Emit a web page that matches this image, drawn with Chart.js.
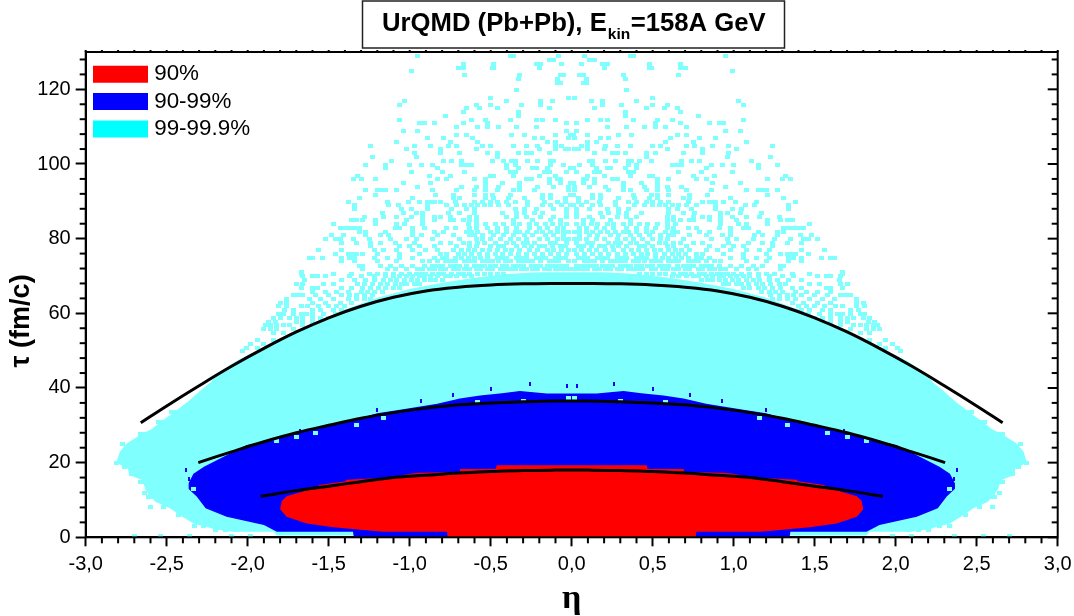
<!DOCTYPE html>
<html><head><meta charset="utf-8">
<style>html,body{margin:0;padding:0;background:#fff}canvas{display:block}</style>
<script src="https://cdn.jsdelivr.net/npm/chart.js@4"></script>
</head><body>
<canvas id="c" width="1074" height="616"></canvas>
<script>
const seriesNames = ["90%", "90-99%", "99-99.9%"];
const legendColors = ["#ff0000", "#0000ff", "#00ffff"];
const xTickStep = 0.5, yTickStep = 20;
const xRange = [-3, 3], yRange = [0, 130];

// left half of each (mirror-symmetric) contour: eta, tau
const cyanUpperEta = [-2.81,-2.79,-2.747,-2.665,-2.59,-2.54,-2.48,-2.37,-2.29,-2.23,-2.19,-2.07,-1.9,-1.615,-1.4,-1.2,-1,-0.8,-0.6,-0.4,-0.2];
const cyanUpperTau = [20,22.9,25.1,27.4,29.1,30.9,32.7,36.3,39.4,41.5,43.8,47.2,50.9,56.5,61,64.2,66.5,68.2,69.5,70.5,71];
const cyanLowerEta = [-2.81,-2.74,-2.73,-2.65,-2.63,-2.57,-2.48,-2.42,-2.335,-2.19,-2.09,-1.84,-1.82];
const cyanLowerTau = [20,18.4,16.7,15.3,12.7,9.5,7.8,6,3.7,2,1.5,1.5,0.5];
const blueUpperEta = [-2.366,-2.335,-2.27,-2.17,-2.006,-1.84,-1.72,-1.59,-1.41,-1.31,-1.2,-1.06,-0.83,-0.69,-0.566,-0.43,-0.32,-0.154];
const blueUpperTau = [14.4,17,18.9,21.1,24.7,26,27.8,29.1,30.9,31.8,33.2,34.2,35.8,37.2,38,38.6,39.2,38.5];
const blueLowerEta = [-2.366,-2.315,-2.26,-2.13,-1.9,-1.82,-1.35,-1.345];
const blueLowerTau = [13,10.9,7.8,5.5,3.3,1.5,1.5,0];
const redUpperEta = [-1.8,-1.79,-1.76,-1.68,-1.565,-1.56,-1.395,-1.39,-1.1,-1,-0.936,-0.695,-0.69,-0.468,-0.463];
const redUpperTau = [7.5,9.7,11,12,13.5,14,15,15.4,16.1,17,17.3,17.5,18.3,18.3,19.3];
const redLowerEta = [-1.8,-1.76,-1.636,-1.47,-1.167,-0.77,-0.765];
const redLowerTau = [7.5,5.5,3.7,2.7,1.5,1.5,0];

// fitted curves, left half
const outerEta = [-2.66,-2.5,-2.3,-2.1,-1.9,-1.7,-1.5,-1.3,-1.1,-0.9,-0.7,-0.5,-0.3,-0.1];
const outerTau = [30.7,35.2,40.6,45.8,50.6,55,58.8,61.9,64.3,66,67,67.6,67.9,68];
const middleEta = [-2.305,-2.1,-1.9,-1.7,-1.5,-1.3,-1.1,-0.9,-0.7,-0.5,-0.3,-0.1];
const middleTau = [20,22.9,25.6,28,30,31.9,33.4,34.6,35.5,36,36.3,36.5];
const innerEta = [-1.92,-1.7,-1.5,-1.3,-1.1,-0.9,-0.7,-0.5,-0.3,-0.1];
const innerTau = [11,12.5,13.7,14.9,16,16.6,17.2,17.6,17.9,18];

// isolated 99-99.9% cells, one tau per row, left half etas
const cellTauRows = [128.8,127.9,126.7,125.8,125,123.9,122.8,121.7,119.9,117.8,116.9,115.9,114.9,113.8,112.9,111.9,110.9,109.8,108.9,107.8,106.9,106,104.9,103.9,102.9,101.9,100.9,99.8,98.8,97.9,96.9,95.9,94.8,93.9,92.9,91.8,90.8,89.9,88.9,87.9,86.9,85.9,84.9,83.8,82.9,81.9,80.9,79.8,78.8,77.9,76.9,75.8,74.9,73.9,72.8,71.8,71,70.6,69.9,68.8,67.9,66.8,65.8,64.8,63.9,62.8,61.9,60.8,59.9,58.8,57.8,56.8,55.7,54.7,52.9,51.9,50.8,49.8,0.3,33.6,30.9,27.8,25.1,19.8,18.7,16.9,14.9,11.9,10.9,8,6,3.1,2];
const cellEtaRows = [
[-0.95,-0.38,-0.36,-0.08],
[-0.14,-0.11],
[-0.67,-0.48,-0.22,-0.19,-0.06],
[-0.7,-0.67,-0.49,-0.48,-0.2],
[-0.99],
[-0.66,-0.32,-0.07,-0.05],
[-0.33,-0.09],
[-0.09,-0.07],
[-0.34],
[-0.5,-0.02],
[-1.03,-0.4,-0.19,-0.12],
[-1.06,-0.59,-0.5,-0.31,-0.19],
[-0.65,-0.57,-0.46,-0.14],
[-0.67,-0.33],
[-0.78,-0.33],
[-1.06,-0.62,-0.53,-0.38,-0.22,-0.18,-0.1],
[-0.94,-0.91,-0.85,-0.67,-0.52,-0.03],
[-0.71,-0.58,-0.52,-0.45,-0.34,-0.22],
[-1.04,-0.95,-0.03],
[-0.71,-0.65,-0.37,-0.29,-0.1,-0.01],
[-0.89,-0.79,-0.61,-0.23,-0.18,-0.02],
[-1.08,-0.75,-0.58,-0.15,-0.1],
[-1.24,-0.97,-0.87,-0.76,-0.71,-0.55,-0.5,-0.36,-0.28,-0.21,-0.1,-0.06],
[-1.02,-0.81,-0.59,-0.2,-0.1,-0.04,-0.02],
[-0.97,-0.81,-0.69,-0.52,-0.46,-0.33,-0.28,-0.25,-0.14],
[-1.23,-0.96,-0.46],
[-1.11,-0.79,-0.74,-0.68,-0.49,-0.42,-0.37,-0.35,-0.27,-0.21,-0.13,-0.11],
[-1.27,-1.15,-1,-0.93,-0.86,-0.68,-0.65,-0.62,-0.4,-0.35,-0.13,-0.05],
[-1.15,-0.83,-0.4,-0.33,-0.24,-0.22,-0.15,-0.01],
[-0.99,-0.8,-0.66,-0.38,-0.35,-0.17,-0.14,-0.03],
[-1.32,-0.88,-0.75,-0.5,-0.48,-0.36,-0.2,-0.1],
[-1.35,-1.3,-1.21,-0.83,-0.77,-0.6,-0.53,-0.28,-0.25,-0.14,-0.09,-0.07],
[-1.04,-0.87,-0.53,-0.43,-0.32,-0.14,-0.07,-0.01],
[-0.95,-0.68,-0.59,-0.53,-0.45,-0.32,-0.21,-0.11,-0.02],
[-1.27,-1.2,-1.17,-1.15,-1.08,-0.86,-0.71,-0.6,-0.53,-0.46,-0.36,-0.32,-0.23,-0.02],
[-1.21,-0.84,-0.73,-0.6,-0.53,-0.49,-0.38,-0.18,-0.13,-0.01],
[-1.31,-0.98,-0.73,-0.69,-0.53,-0.48,-0.39,-0.29,-0.18,-0.13,-0.04],
[-1.38,-1.14,-1.01,-0.94,-0.89,-0.87,-0.85,-0.81,-0.72,-0.6,-0.55,-0.5,-0.46,-0.4,-0.35,-0.27,-0.17,-0.09,-0.04],
[-1.34,-1.13,-1.07,-0.89,-0.77,-0.71,-0.66,-0.62,-0.58,-0.54,-0.5,-0.45,-0.39,-0.27,-0.18,-0.13,-0.06,-0.01],
[-1.34,-1.05,-0.99,-0.89,-0.74,-0.65,-0.6,-0.35,-0.29,-0.22,-0.11,-0.03],
[-1.17,-1.04,-0.96,-0.92,-0.76,-0.69,-0.6,-0.43,-0.34,-0.29,-0.23,-0.18,-0.03],
[-1.28,-1.16,-1.08,-0.99,-0.92,-0.85,-0.81,-0.75,-0.63,-0.59,-0.4,-0.34,-0.28,-0.19,-0.11,-0.03],
[-1.36,-1.33,-1.29,-1.21,-1.02,-0.92,-0.85,-0.75,-0.73,-0.67,-0.63,-0.59,-0.36,-0.24,-0.13,-0.07],
[-1.47,-1.21,-1.08,-1.03,-0.92,-0.64,-0.59,-0.53,-0.47,-0.42,-0.36,-0.32,-0.26,-0.22,-0.16,-0.12,-0.07,-0.03],
[-1.43,-1.4,-1.37,-1.34,-1.31,-1.09,-1.06,-0.98,-0.91,-0.77,-0.72,-0.63,-0.59,-0.52,-0.46,-0.4,-0.34,-0.26,-0.2,-0.15,-0.09,-0.05],
[-1.31,-1.27,-1.15,-0.98,-0.85,-0.79,-0.65,-0.62,-0.58,-0.5,-0.46,-0.4,-0.35,-0.32,-0.27,-0.22,-0.18,-0.13,-0.09,-0.05,-0.02],
[-1.48,-1.41,-1.27,-1.18,-1.13,-0.98,-0.93,-0.83,-0.73,-0.63,-0.6,-0.55,-0.48,-0.42,-0.36,-0.29,-0.24,-0.16,-0.11,-0.05],
[-1.52,-1.46,-1.43,-1.35,-1.25,-1.12,-1.02,-0.96,-0.86,-0.69,-0.59,-0.55,-0.5,-0.44,-0.38,-0.33,-0.28,-0.2,-0.15,-0.09,-0.05,-0.02],
[-1.42,-1.33,-1.24,-1.18,-1.09,-0.97,-0.81,-0.75,-0.67,-0.63,-0.58,-0.54,-0.47,-0.4,-0.36,-0.3,-0.27,-0.23,-0.13,-0.1,-0.03],
[-1.24,-1.06,-1,-0.94,-0.85,-0.71,-0.63,-0.59,-0.5,-0.45,-0.42,-0.34,-0.29,-0.25,-0.2,-0.17,-0.12,-0.07,-0.04],
[-1.56,-1.42,-1.22,-1.16,-1.08,-0.98,-0.9,-0.83,-0.73,-0.68,-0.64,-0.6,-0.55,-0.51,-0.46,-0.41,-0.37,-0.32,-0.26,-0.21,-0.15,-0.11,-0.06,-0.02],
[-1.46,-1.38,-1.35,-1.33,-1.29,-1.2,-1.06,-0.94,-0.81,-0.77,-0.7,-0.66,-0.62,-0.57,-0.52,-0.47,-0.43,-0.38,-0.33,-0.28,-0.23,-0.18,-0.13,-0.08,-0.03],
[-1.62,-1.6,-1.54,-1.42,-1.37,-1.34,-1.22,-1.14,-1.06,-0.98,-0.85,-0.8,-0.77,-0.72,-0.68,-0.64,-0.6,-0.56,-0.52,-0.46,-0.43,-0.4,-0.34,-0.31,-0.28,-0.22,-0.19,-0.16,-0.1,-0.07,-0.04],
[-1.42,-1.34,-1.2,-1.08,-0.92,-0.88,-0.83,-0.78,-0.75,-0.72,-0.66,-0.63,-0.6,-0.55,-0.52,-0.49,-0.45,-0.41,-0.38,-0.33,-0.3,-0.27,-0.24,-0.19,-0.14,-0.11,-0.08,-0.02],
[-1.31,-1.29,-1.18,-1.12,-1.05,-0.98,-0.91,-0.86,-0.83,-0.8,-0.75,-0.72,-0.69,-0.65,-0.6,-0.57,-0.54,-0.5,-0.47,-0.43,-0.4,-0.36,-0.33,-0.3,-0.25,-0.22,-0.19,-0.15,-0.12,-0.09,-0.06,-0.03],
[-1.29,-1.14,-1.09,-1.02,-0.95,-0.92,-0.88,-0.85,-0.81,-0.78,-0.73,-0.7,-0.66,-0.63,-0.59,-0.56,-0.52,-0.49,-0.44,-0.41,-0.38,-0.35,-0.31,-0.28,-0.24,-0.21,-0.17,-0.14,-0.1,-0.07,-0.04,-0.01],
[-1.67],
[-1.67,-1.47,-1.36,-1.25,-1.2,-1.15,-1.1,-1.05,-1,-0.96,-0.93,-0.9,-0.86,-0.82,-0.79,-0.74,-0.7,-0.67,-0.63,-0.58,-0.54,-0.5,-0.46,-0.42],
[-1.66,-1.6,-1.57,-1.52,-1.37,-1.3,-1.22,-1.15,-1.1,-1.06,-1.02,-0.98,-0.94,-0.91,-0.87,-0.83,-0.78,-0.75,-0.71,-0.66,-0.62],
[-1.65,-1.42,-1.34,-1.27,-1.22,-1.16,-1.12,-1.08,-1.03,-0.99,-0.95,-0.91,-0.87,-0.84,-0.8],
[-1.7,-1.66,-1.53,-1.47,-1.32,-1.28,-1.23,-1.18,-1.14,-1.09,-1.05,-1.02,-0.97,-0.94],
[-1.67,-1.6,-1.57,-1.42,-1.36,-1.29,-1.24,-1.19,-1.15,-1.1,-1.06],
[-1.6,-1.52,-1.45,-1.38,-1.3,-1.26,-1.22,-1.17],
[-1.72,-1.69,-1.66,-1.58,-1.5,-1.42,-1.37,-1.33,-1.28,-1.23],
[-1.76,-1.62,-1.55,-1.47,-1.38,-1.33,-1.28,-1.24],
[-1.8,-1.76,-1.6,-1.52,-1.43,-1.36],
[-1.81,-1.76,-1.67,-1.63,-1.56,-1.5,-1.45,-1.4],
[-1.77,-1.72,-1.6,-1.55,-1.47,-1.42],
[-1.81,-1.78,-1.72,-1.67,-1.64,-1.6,-1.53,-1.46],
[-1.84,-1.8,-1.74,-1.7,-1.66,-1.6,-1.55,-1.5],
[-1.87,-1.83,-1.7,-1.66,-1.6,-1.55],
[-1.89,-1.86,-1.82,-1.78,-1.74,-1.66],
[-1.9,-1.86,-1.82,-1.72],
[-1.84,-1.78],
[-1.94,-1.84],
[-1.98,-1.9],
[-2.01,-1.94],
[-2.03,-1.91],
[-2.7,-2.54,-2.36,-2.1,-1.98],
[-2.47,-2.44],
[-2.55,-2.52],
[-2.66,-2.63,-2.6],
[-2.77,-2.72,-2.69],
[-2.81,-2.76],
[-2.76,-2.72],
[-2.72,-2.69],
[-2.66,-2.63],
[-2.64,-2.6],
[-2.61,-2.58],
[-2.6,-2.52],
[-2.43,-2.39],
[-2.33,-2.27],
[-2.2,-2.14,-2.07]
];
// lighter cells enclosed in the blue band, and blue specks on its rim
const holeEta = [-2.335,-1.82,-1.7,-1.58,-1.33,-1.16,-0.58,-0.3,-0.02];
const holeTau = [13,25.8,26.9,28,30,32,36.2,36.6,37.2];
const speckEta = [-2.38,-2.36,-1.68,-1.2,-0.93,-0.73,-0.5,-0.26,-0.03];
const speckTau = [18,15.6,28.6,34,36.6,38,39.6,41,40.5];

const both = (eta, tau) => eta.map((v, i) => ({x: v, y: tau[i]})).concat(
  eta.slice().reverse().map((v, i) => ({x: -v, y: tau[tau.length - 1 - i]})));
const cellPts = [];
cellTauRows.forEach((t, r) => cellEtaRows[r].forEach(e => { cellPts.push({x: e, y: t}); cellPts.push({x: -e, y: t}); }));

function cell(color, w, h) {
  const c = document.createElement('canvas');
  c.width = w; c.height = h;
  const g = c.getContext('2d'); g.fillStyle = color; g.fillRect(0, 0, w, h);
  return c;
}
const lightCyan = '#80ffff';
const band = (label, data, color, order, fill) => ({label, data, showLine: true, borderWidth: 0, pointRadius: 0,
  backgroundColor: color, borderColor: color, order, fill, tension: 0});
const curve = (label, data) => ({label, data, showLine: true, borderColor: '#000', borderWidth: 3, pointRadius: 0,
  fill: false, tension: 0.4, order: 1});

const framePlugin = {
  id: 'frame',
  beforeDraw(chart) {
    chart.legend.left = 93;
    chart.legend.top = 58;
  },
  afterDraw(chart) {
    const {ctx, chartArea: a, scales: {x, y}} = chart;
    ctx.save();
    ctx.strokeStyle = '#000'; ctx.lineWidth = 2;
    const line = (x1, y1, x2, y2) => { ctx.beginPath(); ctx.moveTo(x1, y1); ctx.lineTo(x2, y2); ctx.stroke(); };
    for (let i = xRange[0] * 10; i <= xRange[1] * 10; i++) {
      const px = x.getPixelForValue(i / 10);
      if (i % 5) line(px, a.bottom, px, a.bottom + 6);
      line(px, a.top, px, a.top - 2);
    }
    for (let t = yRange[0]; t <= 128; t += 4) {
      const py = y.getPixelForValue(t);
      if (t % 20) line(a.left, py, a.left - 6, py);
      line(a.right, py, a.right - (t % 20 ? 6 : 10), py);
    }
    ctx.strokeRect(a.left, a.top, a.right - a.left, a.bottom - a.top);
    // title box
    ctx.fillStyle = '#fff'; ctx.strokeStyle = '#222'; ctx.lineWidth = 1.5;
    ctx.fillRect(362.5, 1, 422, 47); ctx.strokeRect(362.5, 1, 422, 47);
    ctx.fillStyle = '#000'; ctx.textBaseline = 'alphabetic'; ctx.textAlign = 'left';
    ctx.font = 'bold 25.7px "Liberation Sans"';
    let tx = 382; const main = 'UrQMD (Pb+Pb), E';
    ctx.fillText(main, tx, 31); tx += ctx.measureText(main).width + 1;
    ctx.font = 'bold 15.5px "Liberation Sans"';
    ctx.fillText('kin', tx, 39); tx += ctx.measureText('kin').width + 0.5;
    ctx.font = 'bold 25.7px "Liberation Sans"';
    ctx.fillText('=158A GeV', tx, 31);
    ctx.restore();
  }
};

new Chart(document.getElementById('c'), {
  type: 'scatter',
  data: {datasets: [
    band('cyan', both(cyanUpperEta, cyanUpperTau), lightCyan, 10, '+1'),
    band('cyanLow', both(cyanLowerEta, cyanLowerTau), lightCyan, 10, false),
    {label: 'cells', data: cellPts, pointStyle: cell(lightCyan, 5, 4), order: 9, pointRadius: 3},
    band('blue', both(blueUpperEta, blueUpperTau), '#0000ff', 8, '+1'),
    band('blueLow', both(blueLowerEta, blueLowerTau), '#0000ff', 8, false),
    {label: 'holes', data: both(holeEta, holeTau), pointStyle: cell(lightCyan, 5, 4), order: 7, pointRadius: 3},
    {label: 'specks', data: both(speckEta, speckTau), pointStyle: cell('#0000ff', 2, 4), order: 7, pointRadius: 3},
    band('red', both(redUpperEta, redUpperTau), '#ff0000', 6, '+1'),
    band('redLow', both(redLowerEta, redLowerTau), '#ff0000', 6, false),
    curve('outer', both(outerEta, outerTau)),
    curve('middle', both(middleEta, middleTau)),
    curve('inner', both(innerEta, innerTau))
  ]},
  options: {
    responsive: false, animation: false, devicePixelRatio: 1,
    layout: {padding: {top: 52, right: 16.3, left: 0, bottom: 0}},
    scales: {
      x: {type: 'linear', min: xRange[0], max: xRange[1],
        afterFit(s) { s.height = 78.7; s.paddingLeft = 0; s.paddingRight = 0; },
        grid: {drawOnChartArea: false, drawTicks: true, tickLength: 9, tickColor: '#000', tickWidth: 2},
        border: {color: '#000', width: 2},
        ticks: {stepSize: xTickStep, includeBounds: false, padding: 6, maxRotation: 0, autoSkip: false, color: '#000',
          font: {family: '"Liberation Sans"', size: 20},
          callback: v => v.toFixed(1).replace('.', ',')},
        title: {display: true, text: 'η', color: '#000', padding: {top: 0, bottom: -4},
          font: {family: '"Liberation Serif"', size: 34, weight: 'bold'}}},
      y: {type: 'linear', min: yRange[0], max: yRange[1],
        afterFit(s) { s.width = 85.7; },
        grid: {drawOnChartArea: false, drawTicks: true, tickLength: 10, tickColor: '#000', tickWidth: 2},
        border: {color: '#000', width: 2},
        ticks: {stepSize: yTickStep, includeBounds: false, padding: 5, color: '#000',
          font: {family: '"Liberation Sans"', size: 20}},
        title: {display: true, text: 'τ (fm/c)       ', color: '#000', padding: {top: 5, bottom: 0},
          font: {family: '"Liberation Sans"', size: 27, weight: 'bold'}}}
    },
    plugins: {
      title: {display: false},
      tooltip: {enabled: false},
      legend: {display: true, position: 'chartArea', align: 'start', onClick: null,
        labels: {boxWidth: 45, boxHeight: 7, padding: 5, color: '#000',
          font: {family: '"Liberation Sans"', size: 22.4},
          generateLabels: () => seriesNames.map((n, i) => ({text: n, fillStyle: legendColors[i], strokeStyle: legendColors[i], lineWidth: 10}))}}
    }
  },
  plugins: [framePlugin]
});
</script>
</body></html>
